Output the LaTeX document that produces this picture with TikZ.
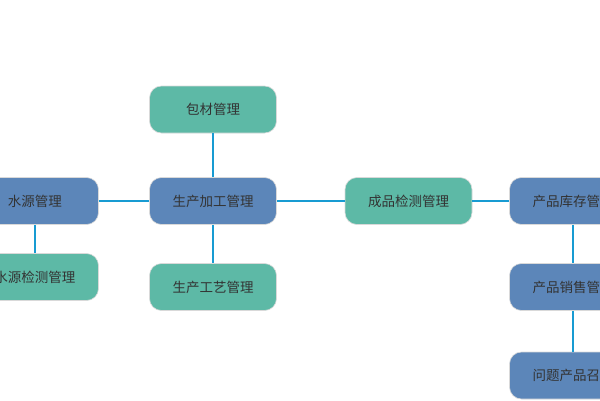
\documentclass[tikz,border=0pt]{standalone}
\usepackage{fontspec}
\setmainfont{Noto Sans CJK SC}
\definecolor{boxgreen}{RGB}{93,185,166}
\definecolor{boxblue}{RGB}{92,134,185}
\definecolor{linkblue}{RGB}{24,155,210}
\definecolor{txt}{RGB}{51,51,51}
\begin{document}
\begin{tikzpicture}[x=1pt,y=-1pt,
  box/.style={rounded corners=12pt, minimum width=127pt, minimum height=47pt, inner sep=0pt,
    text=txt, font=\fontsize{13.5pt}{16pt}\selectfont, draw=white!85!black, line width=0.6pt},
  gbox/.style={box, fill=boxgreen},
  bbox/.style={box, fill=boxblue},
  link/.style={draw=linkblue, line width=2pt}]
\useasboundingbox (0,0) rectangle (600,400);
\node[bbox] (sy) at (35,201) {水源管理};
\node[gbox] (syjc) at (35,277) {水源检测管理};
\node[gbox] (bc) at (213,109.5) {包材管理};
\node[bbox] (scjg) at (213,201) {生产加工管理};
\node[gbox] (scgy) at (213,287) {生产工艺管理};
\node[gbox] (cpjc) at (408.5,201) {成品检测管理};
\node[bbox] (kc) at (573,201) {产品库存管理};
\node[bbox] (xs) at (573,287) {产品销售管理};
\node[bbox] (zh) at (573,375.5) {问题产品召回};
\draw[link] (sy) -- (scjg);
\draw[link] (scjg) -- (cpjc);
\draw[link] (cpjc) -- (kc);
\draw[link] (sy) -- (syjc);
\draw[link] (bc) -- (scjg);
\draw[link] (scjg) -- (scgy);
\draw[link] (kc) -- (xs);
\draw[link] (xs) -- (zh);
\end{tikzpicture}
\end{document}
